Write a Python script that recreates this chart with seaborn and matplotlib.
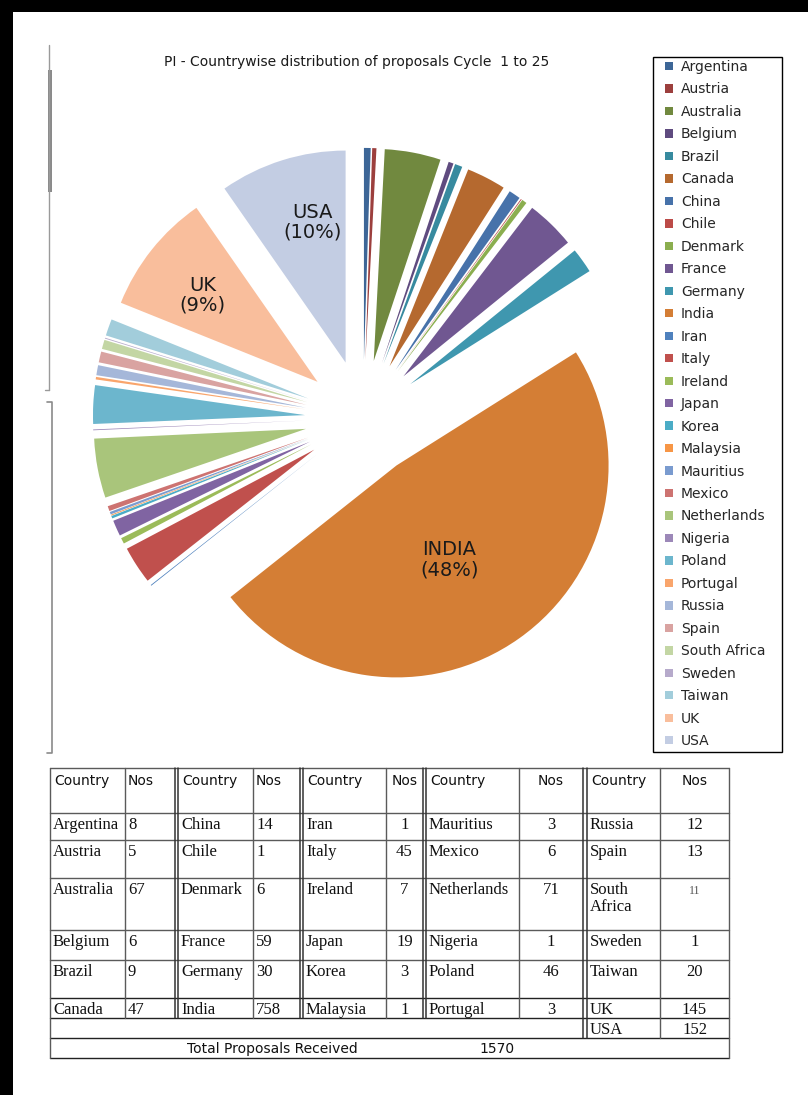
import matplotlib
matplotlib.use("Agg")
import numpy as np
import pandas as pd
import matplotlib.pyplot as plt
import seaborn as sns
from matplotlib.patches import Rectangle

# ---------------------------------------------------------------- data
countries = ["Argentina", "Austria", "Australia", "Belgium", "Brazil", "Canada",
             "China", "Chile", "Denmark", "France", "Germany", "India",
             "Iran", "Italy", "Ireland", "Japan", "Korea", "Malaysia",
             "Mauritius", "Mexico", "Netherlands", "Nigeria", "Poland", "Portugal",
             "Russia", "Spain", "South Africa", "Sweden", "Taiwan", "UK", "USA"]
proposals = [8, 5, 67, 6, 9, 47,
             14, 1, 6, 59, 30, 758,
             1, 45, 7, 19, 3, 1,
             3, 6, 71, 1, 46, 3,
             12, 13, 11, 1, 20, 145, 152]
slice_colors = ["#3D6697", "#9C3F3D", "#71893F", "#5F4B7F", "#378A9F", "#B5692F",
                "#4772AA", "#BC4B48", "#8BAE4F", "#705791", "#3F97AF", "#D47E35",
                "#4F81BD", "#C0504D", "#9BBB59", "#8064A2", "#4BACC6", "#F79646",
                "#7A9BCF", "#CD7371", "#A9C57B", "#9C88B8", "#6CB6CD", "#F9A56C",
                "#A5B7D9", "#D9A3A1", "#C3D6A4", "#B6AACB", "#A2CDDB", "#F9BE9C",
                "#C3CDE3"]
pie_labels = {"India": "INDIA", "UK": "UK", "USA": "USA"}
label_radius = {"India": 0.51, "UK": 0.68, "USA": 0.68}
label_turn = {"India": -6.0, "UK": 1.5, "USA": -4.0}   # degrees off the wedge bisector
table_display = {"South Africa": "South\nAfrica"}
chart_title = "PI - Countrywise distribution of proposals Cycle  1 to 25"
total_label = "Total Proposals Received"

df = pd.DataFrame({"country": countries, "nos": proposals})
total = int(df["nos"].sum())

# ---------------------------------------------------------------- style
sns.set_theme(style="white")
plt.rcParams["font.family"] = ["DejaVu Sans"]
palette = sns.color_palette(slice_colors)

W, H = 808, 1095
fig = plt.figure(figsize=(W / 100, H / 100), dpi=100, facecolor="white")


def fig_box(x0, y0, x1, y1):
    """pixel box (top-left origin) -> figure fraction rect"""
    return [x0 / W, 1 - y1 / H, (x1 - x0) / W, (y1 - y0) / H]


# ---------------------------------------------------------------- pie
R_PX = 212.0          # pie radius in pixels
CX, CY = 363.0, 418.0  # pie centre in pixels
EXPLODE = 0.274
bx0, by0, bx1, by1 = 60, 75, 650, 765
ax = fig.add_axes(fig_box(bx0, by0, bx1, by1))
wedges, _ = ax.pie(df["nos"], colors=palette, startangle=90, counterclock=False,
                   explode=[EXPLODE] * len(df), radius=1.0,
                   wedgeprops=dict(linewidth=0))
ax.set_aspect("auto")
ax.set_xlim((bx0 - CX) / R_PX, (bx1 - CX) / R_PX)
ax.set_ylim((CY - by1) / R_PX, (CY - by0) / R_PX)
ax.axis("off")

for i, name in enumerate(countries):
    if name not in pie_labels:
        continue
    w = wedges[i]
    mid = np.deg2rad((w.theta1 + w.theta2) / 2 + label_turn[name])
    d = label_radius[name] * w.r
    px = w.center[0] + d * np.cos(mid)
    py = w.center[1] + d * np.sin(mid)
    pct = 100 * proposals[i] / total
    ax.text(px, py, f"{pie_labels[name]}\n({pct:.0f}%)", ha="center", va="center",
            fontsize=14, color="#1a1a1a", linespacing=1.05)

# ---------------------------------------------------------------- overlay (pixels)
ov = fig.add_axes([0, 0, 1, 1], zorder=5)
ov.set_xlim(0, W)
ov.set_ylim(H, 0)
ov.axis("off")
ov.patch.set_alpha(0)

# dark frame along top and left
ov.add_patch(Rectangle((0, 0), W, 12, color="black", lw=0))
ov.add_patch(Rectangle((0, 0), 13, H, color="black", lw=0))

# margin rules on the left
ov.plot([48.5, 48.5], [45, 390], color="#9a9a9a", lw=1)
ov.plot([45, 48.5], [390, 390], color="#9a9a9a", lw=1)
ov.add_patch(Rectangle((48, 70), 4, 122, color="#8a8a8a", lw=0))
ov.plot([47, 52, 52, 47], [402, 402, 753, 753], color="#8a8a8a", lw=1.2)

# title
ov.text(357, 62, chart_title, ha="center", va="center", fontsize=10, color="#1a1a1a")

# legend box and legend
ov.add_patch(Rectangle((653, 57), 129, 695, fill=False, ec="black", lw=1))
fig.legend(wedges, countries, loc="upper left",
           bbox_to_anchor=(665 / W, 1 - 60 / H), frameon=False,
           borderpad=0, borderaxespad=0, fontsize=10, labelspacing=0.61,
           handlelength=0.55, handleheight=0.55, handletextpad=0.6)

# ---------------------------------------------------------------- table
row_edges = [768, 813, 840, 878, 930, 960, 998, 1018, 1038, 1058]
groups = [  # (country col x0, nos col x0, group right edge, nos centred?)
    (50, 125, 175, False),
    (178, 253, 300, False),
    (303, 386, 423, True),
    (426, 519, 583, True),
    (587, 660, 729, True),
]
LX, RX = 50, 729
lc = "#5a5a5a"

for y in row_edges:
    if y in (998, 1018, 1038, 1058):
        ov.plot([LX, RX], [y, y], color="#222222", lw=1)
    else:
        ov.plot([LX, RX], [y, y], color=lc, lw=1)
ov.plot([LX, LX], [768, 1058], color=lc, lw=1)
ov.plot([RX, RX], [768, 1058], color=lc, lw=1)
for gi, (cx0, nx0, gx1, _) in enumerate(groups):
    bottom = 1038 if gi == len(groups) - 1 else 1018
    ov.plot([nx0, nx0], [768, bottom], color=lc, lw=1)
    if gi < len(groups) - 1:
        nxt = groups[gi + 1][0]
        dbl_bottom = 1038 if gi == len(groups) - 2 else 1018
        ov.plot([gx1, gx1], [768, dbl_bottom], color="#333333", lw=1.1)
        ov.plot([nxt - 0.5, nxt - 0.5], [768, dbl_bottom], color="#333333", lw=1.1)

serif = ["Liberation Serif", "DejaVu Serif"]
for gi, (cx0, nx0, gx1, centred) in enumerate(groups):
    ov.text(cx0 + 4, 781, "Country", ha="left", va="center", fontsize=10, color="#111111")
    if centred:
        ov.text((nx0 + gx1) / 2, 781, "Nos", ha="center", va="center", fontsize=10, color="#111111")
    else:
        ov.text(nx0 + 3, 781, "Nos", ha="left", va="center", fontsize=10, color="#111111")

for idx, (name, val) in enumerate(zip(countries, proposals)):
    gi, ri = divmod(idx, 6)
    if gi >= len(groups):
        gi, ri = len(groups) - 1, 6
    cx0, nx0, gx1, centred = groups[gi]
    top = row_edges[ri + 1]
    ty = top + 12
    label = table_display.get(name, name)
    ov.text(cx0 + 3, ty - 8, label, ha="left", va="top", fontsize=12,
            family=serif, color="#111111", linespacing=1.1)
    small = "\n" in label
    kw = dict(va="top", fontsize=8.5 if small else 12, family=serif,
              color="#555555" if small else "#111111")
    if centred:
        ov.text((nx0 + gx1) / 2, ty - (5 if small else 8), str(val), ha="center", **kw)
    else:
        ov.text(nx0 + 3, ty - 8, str(val), ha="left", **kw)

ov.text(272, 1049, total_label, ha="center", va="center", fontsize=10, color="#111111")
ov.text(497, 1049, str(total), ha="center", va="center", fontsize=10, color="#111111")

fig.savefig("out.png", dpi=100, facecolor="white")
